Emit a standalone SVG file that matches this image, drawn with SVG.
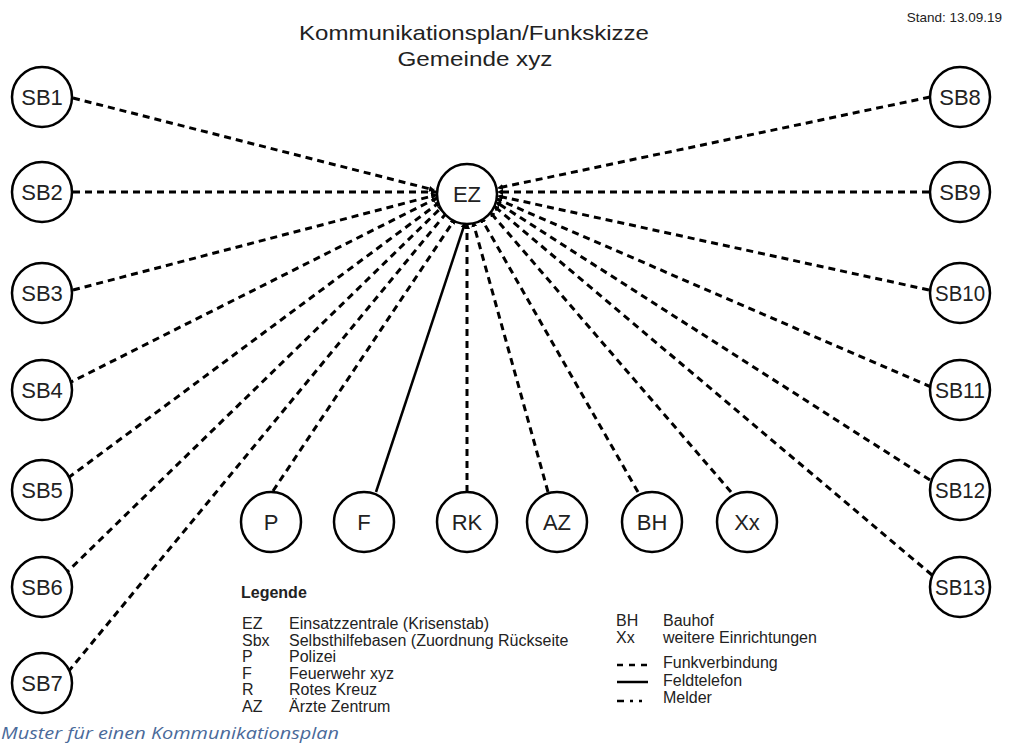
<svg xmlns="http://www.w3.org/2000/svg" width="1010" height="746" viewBox="0 0 1010 746">
<defs>
<marker id="ah" markerWidth="6" markerHeight="6" refX="5" refY="3" orient="auto" markerUnits="userSpaceOnUse">
<path d="M0,0 L6,3 L0,6 z" fill="#000"/>
</marker>
<style>
.n circle{fill:#fff;stroke:#000;stroke-width:2.5}
.n text{font-family:"Liberation Sans",Arial,sans-serif;font-size:22px;fill:#222;text-anchor:middle}
.d{stroke:#000;stroke-width:3;stroke-dasharray:7 5;fill:none;marker-end:url(#ah)}
.s{stroke:#000;stroke-width:2.5;fill:none;marker-end:url(#ah)}
.t{font-family:"Liberation Sans",Arial,sans-serif;fill:#222}
.lg{font-family:"Liberation Sans",Arial,sans-serif;font-size:16px;fill:#222}
</style>
</defs>
<rect width="1010" height="746" fill="#fff"/>
<text class="t" x="474" y="40" font-size="21" text-anchor="middle" textLength="350" lengthAdjust="spacingAndGlyphs">Kommunikationsplan/Funkskizze</text>
<text class="t" x="475" y="66" font-size="21" text-anchor="middle" textLength="155" lengthAdjust="spacingAndGlyphs">Gemeinde xyz</text>
<text class="t" x="1002" y="22" font-size="13.5" text-anchor="end">Stand: 13.09.19</text>
<g id="connectors">
<line class="d" x1="73" y1="98" x2="434" y2="190"/>
<line class="d" x1="73" y1="192" x2="436" y2="192"/>
<line class="d" x1="73" y1="290" x2="436" y2="195"/>
<line class="d" x1="67" y1="384" x2="437" y2="198"/>
<line class="d" x1="68" y1="478" x2="440" y2="202"/>
<line class="d" x1="64" y1="575" x2="443" y2="206"/>
<line class="d" x1="68" y1="672" x2="448" y2="211"/>
<line class="d" x1="273" y1="491" x2="455" y2="219"/>
<line class="s" x1="376" y1="492" x2="465" y2="223"/>
<line class="d" x1="467" y1="492" x2="467" y2="224"/>
<line class="d" x1="548" y1="492" x2="473" y2="222"/>
<line class="d" x1="638" y1="492" x2="481" y2="218"/>
<line class="d" x1="731" y1="492" x2="490" y2="212"/>
<line class="d" x1="932" y1="575" x2="494" y2="206"/>
<line class="d" x1="930" y1="480" x2="496" y2="202"/>
<line class="d" x1="931" y1="387" x2="497" y2="199"/>
<line class="d" x1="929" y1="290" x2="498" y2="196"/>
<line class="d" x1="929" y1="192" x2="498" y2="192"/>
<line class="d" x1="930" y1="97" x2="498" y2="188"/>
</g>
<g id="EZ" class="n"><circle cx="467" cy="194" r="30"/><text x="467" y="202">EZ</text></g>
<g id="SB1" class="n"><circle cx="42" cy="97" r="30"/><text x="42" y="105">SB1</text></g>
<g id="SB2" class="n"><circle cx="42" cy="192" r="30"/><text x="42" y="200">SB2</text></g>
<g id="SB3" class="n"><circle cx="42" cy="293" r="30"/><text x="42" y="301">SB3</text></g>
<g id="SB4" class="n"><circle cx="42" cy="390" r="30"/><text x="42" y="398">SB4</text></g>
<g id="SB5" class="n"><circle cx="42" cy="490" r="30"/><text x="42" y="498">SB5</text></g>
<g id="SB6" class="n"><circle cx="42" cy="587" r="30"/><text x="42" y="595">SB6</text></g>
<g id="SB7" class="n"><circle cx="42" cy="683" r="30"/><text x="42" y="691">SB7</text></g>
<g id="SB8" class="n"><circle cx="960" cy="97" r="30"/><text x="960" y="105">SB8</text></g>
<g id="SB9" class="n"><circle cx="960" cy="192" r="30"/><text x="960" y="200">SB9</text></g>
<g id="SB10" class="n"><circle cx="960" cy="293" r="30"/><text x="960" y="301" textLength="50" lengthAdjust="spacingAndGlyphs">SB10</text></g>
<g id="SB11" class="n"><circle cx="960" cy="390" r="30"/><text x="960" y="398" textLength="50" lengthAdjust="spacingAndGlyphs">SB11</text></g>
<g id="SB12" class="n"><circle cx="960" cy="490" r="30"/><text x="960" y="498" textLength="50" lengthAdjust="spacingAndGlyphs">SB12</text></g>
<g id="SB13" class="n"><circle cx="960" cy="587" r="30"/><text x="960" y="595" textLength="50" lengthAdjust="spacingAndGlyphs">SB13</text></g>
<g id="P" class="n"><circle cx="271" cy="522" r="30"/><text x="271" y="530">P</text></g>
<g id="F" class="n"><circle cx="364" cy="522" r="30"/><text x="364" y="530">F</text></g>
<g id="RK" class="n"><circle cx="467" cy="522" r="30"/><text x="467" y="530">RK</text></g>
<g id="AZ" class="n"><circle cx="557" cy="522" r="30"/><text x="557" y="530">AZ</text></g>
<g id="BH" class="n"><circle cx="652" cy="522" r="30"/><text x="652" y="530">BH</text></g>
<g id="Xx" class="n"><circle cx="747" cy="522" r="30"/><text x="747" y="530">Xx</text></g>
<g id="legend">
<text class="lg" x="241" y="598" font-weight="bold">Legende</text>
<text class="lg" x="242" y="629">EZ</text><text class="lg" x="289" y="629">Einsatzzentrale (Krisenstab)</text>
<text class="lg" x="242" y="646">Sbx</text><text class="lg" x="289" y="646">Selbsthilfebasen (Zuordnung Rückseite</text>
<text class="lg" x="242" y="662">P</text><text class="lg" x="289" y="662">Polizei</text>
<text class="lg" x="242" y="679">F</text><text class="lg" x="289" y="679">Feuerwehr xyz</text>
<text class="lg" x="242" y="695">R</text><text class="lg" x="289" y="695">Rotes Kreuz</text>
<text class="lg" x="242" y="712">AZ</text><text class="lg" x="289" y="712">Ärzte Zentrum</text>
<text class="lg" x="616" y="626">BH</text><text class="lg" x="663" y="626">Bauhof</text>
<text class="lg" x="616" y="643">Xx</text><text class="lg" x="663" y="643">weitere Einrichtungen</text>
<line x1="617" y1="665" x2="648" y2="665" stroke="#000" stroke-width="2.5" stroke-dasharray="6 6"/>
<text class="lg" x="663" y="668">Funkverbindung</text>
<line x1="617" y1="682" x2="648" y2="682" stroke="#000" stroke-width="2.5"/>
<text class="lg" x="663" y="686">Feldtelefon</text>
<line x1="617" y1="701" x2="648" y2="701" stroke="#000" stroke-width="2.5" stroke-dasharray="7 6 3 6 3 6"/>
<text class="lg" x="663" y="703">Melder</text>
</g>
<text x="1" y="739" font-family="'Open Sans',Lato,sans-serif" font-style="italic" font-size="17" fill="#4a6a9a" textLength="338" lengthAdjust="spacingAndGlyphs">Muster für einen Kommunikationsplan</text>
</svg>
